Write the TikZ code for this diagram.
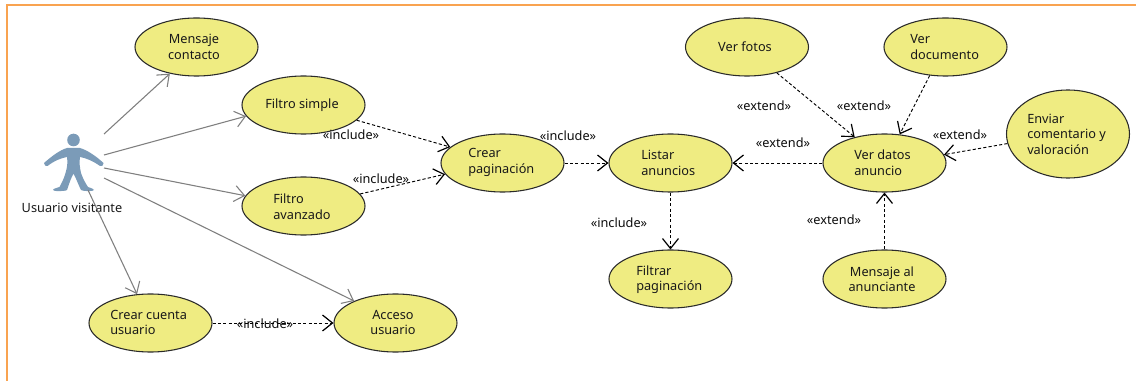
\documentclass[tikz,border=0pt]{standalone}
\usepackage{fontspec}
\setmainfont{Noto Sans}
\usetikzlibrary{arrows.meta,shapes.geometric}
\definecolor{ucfill}{HTML}{EFEC82}
\definecolor{ucline}{HTML}{2A2A2A}
\definecolor{framec}{HTML}{F9A350}
\definecolor{actorc}{HTML}{7B9BB8}
\definecolor{assocc}{HTML}{7F7F7F}
\tikzset{
  ucase/.style={ellipse,draw=ucline,fill=ucfill,line width=.8pt,minimum width=92.25pt,minimum height=43.5pt,inner sep=0pt},
  uctext/.style={font=\fontsize{9.55pt}{11.6pt}\selectfont,text=black!90,inner sep=0pt,align=left,anchor=west},
  uccenter/.style={uctext,align=center,anchor=center},
  stereo/.style={font=\fontsize{9.55pt}{11pt}\selectfont,text=black!95,inner sep=0pt,anchor=center},
  assoc/.style={draw=assocc,line width=.8pt,-{Straight Barb[length=7.5pt,width=12pt,line width=.8pt]}},
  dep/.style={draw=black,line width=.7pt,dash pattern=on 2.4pt off 1.6pt,-{Straight Barb[length=7.5pt,width=12pt,line width=.9pt]}}
}
\begin{document}
\begin{tikzpicture}[x=.75pt,y=-.75pt]
\useasboundingbox (0,0) rectangle (1136,381);
\fill[white] (0,0) rectangle (1136,381);
\draw[framec,line width=1.8pt] (7,381) -- (7,5) -- (1136,5);

% actor
\fill[actorc] (73.5,140) circle[radius=6.3];
\fill[actorc] (67,148) .. controls (60,150) and (52,156) .. (44,163)
  .. controls (44,165.5) and (46,166.5) .. (47.5,166)
  .. controls (54,161) and (61,158) .. (67,157)
  .. controls (68,163) and (67,168) .. (65.5,173)
  .. controls (64,179) and (61,184) .. (59.5,187)
  .. controls (56,188) and (53,189) .. (53,190)
  .. controls (53,191.5) and (65,191.5) .. (67,190)
  .. controls (69,184) and (71,178) .. (73.5,173.5)
  .. controls (76,178) and (78,184) .. (81,190)
  .. controls (83,191.5) and (94,191.5) .. (94,190)
  .. controls (94,189) and (91,188) .. (88,187)
  .. controls (86,184) and (83,179) .. (81,173)
  .. controls (80,168) and (79,163) .. (80,157)
  .. controls (86,158) and (93,161) .. (100,166)
  .. controls (102,166.5) and (104,165.5) .. (103.5,163)
  .. controls (96,156) and (87,150) .. (80,148) -- cycle;
\node[uccenter] (actorlabel) at (72,207.5) {Usuario visitante};

% use cases
\node[ucase] (mensaje) at (196.5,47) {};
\node[ucase] (fsimple) at (303.5,105) {};
\node[ucase] (favanz) at (303.5,206) {};
\node[ucase] (crearpag) at (502.5,163) {};
\node[ucase] (listar) at (670.5,163) {};
\node[ucase] (verdatos) at (884.5,163) {};
\node[ucase] (verfotos) at (747,47) {};
\node[ucase] (verdoc) at (945.5,47) {};
\node[ucase,minimum height=66pt] (enviar) at (1068,134) {};
\node[ucase] (msganun) at (884.5,279) {};
\node[ucase] (filtrar) at (670.5,279) {};
\node[ucase] (crearcta) at (150.5,323) {};
\node[ucase] (acceso) at (395.5,323) {};

% texts
\node[uccenter] (t1) at (194,47) {Mensaje\\contacto};
\node[uccenter] (t2) at (302,105) {Filtro simple};
\node[uctext] (t3) at (273,206.5) {Filtro\\avanzado};
\node[uctext] (t4) at (468,162.5) {Crear\\paginación};
\node[uctext] (t5) at (641,163) {Listar\\anuncios};
\node[uctext] (t6) at (854,162.5) {Ver datos\\anuncio};
\node[uccenter] (t7) at (745,47) {Ver fotos};
\node[uctext] (t8) at (910,47) {Ver\\documento};
\node[uctext] (t9) at (1027,134) {Enviar\\comentario y\\valoración};
\node[uccenter] (t10) at (882,279) {Mensaje al\\anunciante};
\node[uctext] (t11) at (636,279.5) {Filtrar\\paginación};
\node[uctext] (t12) at (110,322.5) {Crear cuenta\\usuario};
\node[uccenter] (t13) at (393,322.5) {Acceso\\usuario};

% association start points
\coordinate (a1) at (104,134);
\coordinate (a2) at (104,155);
\coordinate (a3) at (104,168);
\coordinate (a4) at (104,178);
\coordinate (a5) at (88,190);
\draw[assoc] (a1) -- (mensaje.225.5);
\draw[assoc] (a2) -- (fsimple.191.6);
\draw[assoc] (a3) -- (favanz.170);
\draw[assoc] (a4) -- (acceso.152.6);
\draw[assoc] (a5) -- (crearcta.115.7);

% dependencies
\draw[dep] (fsimple.-16) -- (crearpag.163.8);
\draw[dep] (favanz.12) -- (crearpag.191);
\draw[dep] (crearpag.east) -- (listar.west);
\draw[dep] (verdatos.west) -- (listar.east);
\draw[dep] (listar.south) -- (filtrar.north);
\draw[dep] (verfotos.-41) -- (verdatos.139.6);
\draw[dep] (verdoc.241.8) -- (verdatos.62.6);
\draw[dep] (enviar.189.5) -- (verdatos.8.7);
\draw[dep] (msganun.north) -- (verdatos.south);
\draw[dep] (crearcta.east) -- (acceso.west);

% stereotypes
\node[stereo] (s1) at (351,134.5) {«include»};
\node[stereo] (s2) at (381,178.5) {«include»};
\node[stereo] (s3) at (568,135.5) {«include»};
\node[stereo] (s4) at (619,222.5) {«include»};
\node[stereo] (s5) at (265,323.5) {«include»};
\node[stereo] (s6) at (764,105.5) {«extend»};
\node[stereo] (s7) at (864,105.5) {«extend»};
\node[stereo] (s8) at (783,142.5) {«extend»};
\node[stereo] (s9) at (960,134.5) {«extend»};
\node[stereo] (s10) at (834,219.5) {«extend»};
\end{tikzpicture}
\end{document}
